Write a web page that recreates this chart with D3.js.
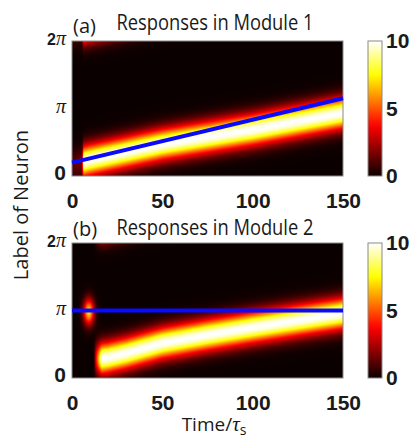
<!DOCTYPE html>
<html>
<head>
  <meta charset="utf-8">
  <script src="https://d3js.org/d3.v7.min.js"></script>
  <style>
    body { margin: 0; background: white; }
    .tick text { fill: #1a1a1a; }
  </style>
</head>
<body>
<script>
// tick labels
var timeTicks = [0, 50, 100, 150];
var angleTicks = [0, Math.PI, 2 * Math.PI];
var angleLabels = ["0", "π", "2π"];
var colorTicks = [0, 5, 10];

// module 1: bump centre / peak at a few times
var bumpTimesA = [0, 5.5, 6.5, 10, 50, 100, 150];
var bumpCentreA = [0.5, 0.6, 0.67, 0.75, 1.47, 2.15, 2.93];
var bumpPeakA = [1.2, 1.5, 10, 10, 10, 10, 10];

// module 2
var bumpTimesB = [0, 12, 13.5, 16.5, 20, 30, 50, 75, 100, 125, 150];
var bumpCentreB = [0.9, 0.9, 0.9, 0.9, 0.95, 1.15, 1.62, 2.0, 2.35, 2.68, 3.0];
var bumpPeakB = [0, 0, 4, 10, 10, 10, 10, 10, 10, 10, 10];
// the early blob near pi in module 2: time, angle, peak, time width, angle width
var blobB = [9.3, 3.08, 7, 2.1, 0.42];

var bumpWidth = 0.5;

// blue lines (stimulus position)
var lineTimes = [0, 150];
var lineA = [0.62, 3.62];
var lineB = [Math.PI, Math.PI];

var W = 413, H = 441;
var left = 72, right = 343, plotH = 135;
var cbX = 368, cbW = 14;

var hot = d3.scaleLinear()
    .domain([0, 3.75, 7.5, 10])
    .range(["#0b0000", "#ff0000", "#ffff00", "#ffffff"])
    .clamp(true);

var svg = d3.select("body").append("svg")
    .attr("width", W).attr("height", H)
    .style("font-family", "'Liberation Sans', Arial, sans-serif");

var panels = [
  {top: 41, tag: "(a)", title: "Responses in Module 1", titleY: 30, tagY: 33,
   times: bumpTimesA, centre: bumpCentreA, peak: bumpPeakA, line: lineA, blob: null},
  {top: 243, tag: "(b)", title: "Responses in Module 2", titleY: 235, tagY: 236,
   times: bumpTimesB, centre: bumpCentreB, peak: bumpPeakB, line: lineB, blob: blobB}
];

panels.forEach(function(p, k) {
  var x = d3.scaleLinear().domain([0, 150]).range([left, right]);
  var y = d3.scaleLinear().domain([0, 2 * Math.PI]).range([p.top + plotH, p.top]);
  var centreAt = d3.scaleLinear().domain(p.times).range(p.centre).clamp(true);
  var peakAt = d3.scaleLinear().domain(p.times).range(p.peak).clamp(true);

  function value(t, th) {
    var d = Math.abs(th - centreAt(t)) % (2 * Math.PI);
    d = Math.min(d, 2 * Math.PI - d);
    var v = peakAt(t) * Math.exp(-d * d / (2 * bumpWidth * bumpWidth));
    if (p.blob) {
      var dt = (t - p.blob[0]) / p.blob[3];
      var da = (th - p.blob[1]) / p.blob[4];
      v += p.blob[2] * Math.exp(-(dt * dt + da * da) / 2);
    }
    return v;
  }

  // heat map drawn pixel by pixel on a canvas, placed as an svg image
  var cw = right - left, ch = plotH;
  var canvas = document.createElement("canvas");
  canvas.width = cw; canvas.height = ch;
  var ctx = canvas.getContext("2d");
  var img = ctx.createImageData(cw, ch);
  for (var j = 0; j < ch; j++) {
    var th = y.invert(p.top + j + 0.5);
    for (var i = 0; i < cw; i++) {
      var t = x.invert(left + i + 0.5);
      var c = d3.rgb(hot(value(t, th)));
      var o = (j * cw + i) * 4;
      img.data[o] = c.r; img.data[o + 1] = c.g; img.data[o + 2] = c.b; img.data[o + 3] = 255;
    }
  }
  ctx.putImageData(img, 0, 0);
  svg.append("image")
      .attr("x", left).attr("y", p.top)
      .attr("width", cw).attr("height", ch)
      .attr("href", canvas.toDataURL());

  svg.append("rect")
      .attr("x", left).attr("y", p.top)
      .attr("width", cw).attr("height", ch)
      .attr("fill", "none").attr("stroke", "#8a8a8a").attr("stroke-width", 1);

  // blue line
  var pts = lineTimes.map(function(t, i) { return [t, p.line[i]]; });
  svg.append("path")
      .datum(pts)
      .attr("d", d3.line().x(function(d) { return x(d[0]); }).y(function(d) { return y(d[1]); }))
      .attr("stroke", "#0a0aff").attr("stroke-width", 4).attr("fill", "none");

  // x axis
  var gx = svg.append("g")
      .attr("transform", "translate(0," + (p.top + plotH) + ")")
      .call(d3.axisBottom(x).tickValues(timeTicks).tickSize(0).tickPadding(17));
  gx.select(".domain").remove();
  gx.selectAll("text")
      .attr("dy", "0.71em")
      .style("font-size", "21px").style("font-weight", "bold")
      .style("font-family", "'Liberation Sans', Arial, sans-serif");

  // y axis
  var gy = svg.append("g")
      .attr("transform", "translate(" + left + ",0)")
      .call(d3.axisLeft(y).tickValues(angleTicks).tickSize(0).tickPadding(6)
        .tickFormat(function(d, i) { return angleLabels[i]; }));
  gy.select(".domain").remove();
  gy.selectAll("text").each(function(d, i) {
    var s = angleLabels[i];
    var el = d3.select(this).text(null).attr("dy", "0.35em");
    if (s.indexOf("π") < 0) {
      el.append("tspan").text(s)
        .style("font-size", "21px").style("font-weight", "bold");
    } else {
      var pre = s.replace("π", "");
      if (pre) el.append("tspan").text(pre)
        .style("font-size", "16px").style("font-weight", "bold");
      el.append("tspan").text("π")
        .style("font-size", "20px").style("font-style", "italic")
        .style("font-family", "'Liberation Serif', serif");
    }
  });

  // colorbar
  var gid = "cb" + k;
  var grad = svg.append("defs").append("linearGradient")
      .attr("id", gid).attr("x1", 0).attr("y1", 1).attr("x2", 0).attr("y2", 0);
  d3.range(0, 10.01, 0.5).forEach(function(v) {
    grad.append("stop").attr("offset", v / 10).attr("stop-color", hot(v));
  });
  svg.append("rect")
      .attr("x", cbX).attr("y", p.top)
      .attr("width", cbW).attr("height", plotH)
      .attr("fill", "url(#" + gid + ")")
      .attr("stroke", "#8a8a8a").attr("stroke-width", 1);
  var cy = d3.scaleLinear().domain([0, 10]).range([p.top + plotH, p.top]);
  var gc = svg.append("g")
      .attr("transform", "translate(" + (cbX + cbW) + ",0)")
      .call(d3.axisRight(cy).tickValues(colorTicks).tickSize(0).tickPadding(4));
  gc.select(".domain").remove();
  gc.selectAll("text")
      .style("font-size", "21px").style("font-weight", "bold")
      .style("font-family", "'Liberation Sans', Arial, sans-serif");

  // titles
  svg.append("text")
      .attr("x", 215).attr("y", p.titleY)
      .attr("text-anchor", "middle")
      .attr("textLength", 197).attr("lengthAdjust", "spacingAndGlyphs")
      .style("font-family", "'Open Sans', sans-serif").style("font-size", "22px")
      .attr("fill", "#1a1a1a")
      .text(p.title);
  svg.append("text")
      .attr("x", 73).attr("y", p.tagY)
      .style("font-family", "'Open Sans', sans-serif").style("font-size", "20px")
      .attr("fill", "#1a1a1a")
      .text(p.tag);
});

// axis titles
var xl = svg.append("text")
    .attr("x", 214).attr("y", 431)
    .attr("text-anchor", "middle")
    .style("font-family", "'Open Sans', sans-serif").style("font-size", "19px")
    .attr("fill", "#1a1a1a");
xl.append("tspan").text("Time/");
xl.append("tspan").text("τ").style("font-style", "italic").style("font-family", "'Liberation Serif', serif").style("font-size", "21px");
xl.append("tspan").text("s").attr("dy", 4).style("font-size", "14px");

svg.append("text")
    .attr("transform", "translate(28,205) rotate(-90)")
    .attr("text-anchor", "middle")
    .style("font-family", "'Open Sans', sans-serif").style("font-size", "20px")
    .attr("fill", "#1a1a1a")
    .text("Label of Neuron");
</script>
</body>
</html>
